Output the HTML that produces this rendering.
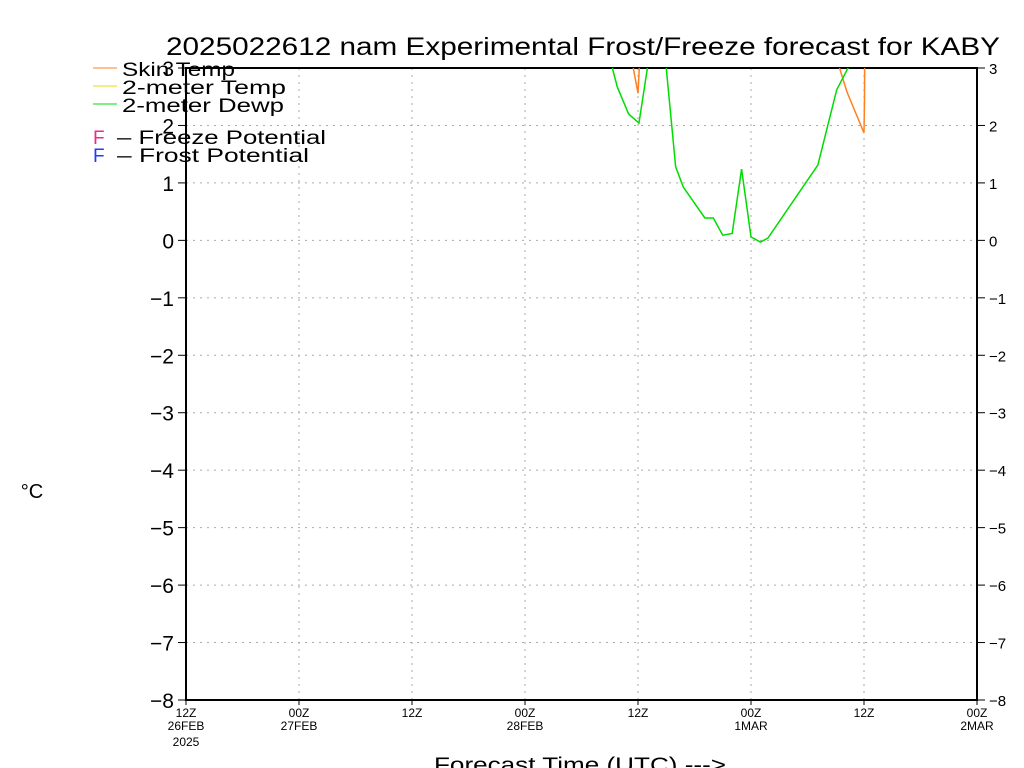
<!DOCTYPE html>
<html><head><meta charset="utf-8"><style>
html,body{margin:0;padding:0;background:#fff;width:1024px;height:768px;overflow:hidden}
svg{display:block;font-family:"Liberation Sans",sans-serif}
</style></head><body>
<svg id="chart" width="1024" height="768" viewBox="0 0 1024 768">
<defs><clipPath id="plotclip"><rect x="186" y="68" width="791" height="632"/></clipPath></defs>
<text x="166" y="55" font-size="25" textLength="834" lengthAdjust="spacingAndGlyphs">2025022612 nam Experimental Frost/Freeze forecast for KABY</text>
<g id="grid"></g>
<g id="axes"></g>
<g id="series" clip-path="url(#plotclip)"></g>
<text x="32" y="498" font-size="20" text-anchor="middle">°C</text>
<text x="434" y="772" font-size="21" textLength="292" lengthAdjust="spacingAndGlyphs">Forecast Time (UTC) ---&gt;</text>
<g>
<line x1="93" y1="68" x2="117" y2="68" stroke="#ff8020"/>
<text x="122" y="76" font-size="19" textLength="113" lengthAdjust="spacingAndGlyphs">Skin Temp</text>
<line x1="93" y1="86" x2="117" y2="86" stroke="#e6dc00"/>
<text x="122" y="94" font-size="19" textLength="164" lengthAdjust="spacingAndGlyphs">2-meter Temp</text>
<line x1="93" y1="104" x2="117" y2="104" stroke="#00dc00"/>
<text x="122" y="112" font-size="19" textLength="162" lengthAdjust="spacingAndGlyphs">2-meter Dewp</text>
<text x="93" y="144" font-size="19" fill="#f0288c">F</text>
<text x="117" y="144" font-size="19" textLength="209" lengthAdjust="spacingAndGlyphs">– Freeze Potential</text>
<text x="93" y="162" font-size="19" fill="#1e3cff">F</text>
<text x="117" y="162" font-size="19" textLength="192" lengthAdjust="spacingAndGlyphs">– Frost Potential</text>
</g>
</svg>
<script>
const yTicks=[3,2,1,0,-1,-2,-3,-4,-5,-6,-7,-8];
const xTickHours=[0,12,24,36,48,60,72,84];
const xTickLabels=["12Z","00Z","12Z","00Z","12Z","00Z","12Z","00Z"];
const xTickDates=["26FEB","27FEB","","28FEB","","1MAR","","2MAR"];
const dewHours=[44.8,45.8,47,48.1,49,49.6,50.4,51,52,52.8,55.1,56,57,58,59,60,61,61.8,67.1,69.1,70.3,71];
const dewValues=[3.3,2.67,2.2,2.04,3.0,3.5,3.5,3.0,1.28,0.93,0.39,0.39,0.09,0.12,1.24,0.06,-0.03,0.04,1.31,2.62,3.0,3.2];
const skinHours1=[47,47.5,48,48.2,48.4];
const skinValues1=[3.8,3.0,2.56,3.2,4.5];
const skinHours2=[69,69.4,70.2,72.0,72.05,72.1];
const skinValues2=[3.5,3.0,2.58,1.87,2.43,4.0];
const X0=186,X1=977,Y0=68,Y1=700;
const xs=h=>X0+h*(X1-X0)/84;
const ys=v=>Y0+(3-v)*(Y1-Y0)/11;
const NS="http://www.w3.org/2000/svg";
function mk(tag,attrs,parent){const e=document.createElementNS(NS,tag);for(const k in attrs)e.setAttribute(k,attrs[k]);parent.appendChild(e);return e;}
const grid=document.getElementById('grid'),axes=document.getElementById('axes'),series=document.getElementById('series');
yTicks.forEach(v=>{
  const y=ys(v);
  if(v<3&&v>-8){const g=mk('line',{x1:X0,x2:X1,y1:y,y2:y,stroke:'#aaa','stroke-dasharray':'2,5'},grid);
  
  }
  const t1=mk('line',{x1:X0-8,x2:X0,y1:y,y2:y,stroke:'#000'},axes);
  
  
  const t2=mk('line',{x1:X1,x2:X1+8,y1:y,y2:y,stroke:'#000'},axes);
  
  
  const lab=(v<0?'−':'')+Math.abs(v);
  const l=mk('text',{x:X0-12,y:y+8,'font-size':21,'text-anchor':'end'},axes);l.textContent=lab;
  
  
  const r=mk('text',{x:X1+12,y:y+6,'font-size':15},axes);r.textContent=lab;
  
  
});
xTickHours.forEach((h,i)=>{
  const x=xs(h);
  if(i>0&&i<xTickHours.length-1){const g=mk('line',{x1:x,x2:x,y1:Y0,y2:Y1,stroke:'#aaa','stroke-dasharray':'2,5'},grid);
  
  }
  const t=mk('line',{x1:x,x2:x,y1:Y1,y2:Y1+5,stroke:'#000'},axes);
  
  
  const a=mk('text',{x:x,y:717,'font-size':12,'text-anchor':'middle'},axes);a.textContent=xTickLabels[i];
  
  
  if(xTickDates[i]){const b=mk('text',{x:x,y:730,'font-size':12,'text-anchor':'middle'},axes);b.textContent=xTickDates[i];
  
  }
});
const yr=mk('text',{x:xs(0),y:746,'font-size':12,'text-anchor':'middle'},axes);yr.textContent='2025';


const frame=mk('rect',{x:X0,y:Y0,width:X1-X0,height:Y1-Y0,fill:'none',stroke:'#000','stroke-width':2},axes);


function line(hs,vs,color,name){
  const p=mk('polyline',{points:hs.map((h,i)=>xs(h)+','+ys(vs[i])).join(' '),fill:'none',stroke:color,'stroke-width':1.5},series);
  
  
}
line(skinHours1,skinValues1,'#ff8020','skin-temp-line-1');
line(skinHours2,skinValues2,'#ff8020','skin-temp-line-2');
line(dewHours,dewValues,'#00dc00','dewpoint-line');
</script>
</body></html>
